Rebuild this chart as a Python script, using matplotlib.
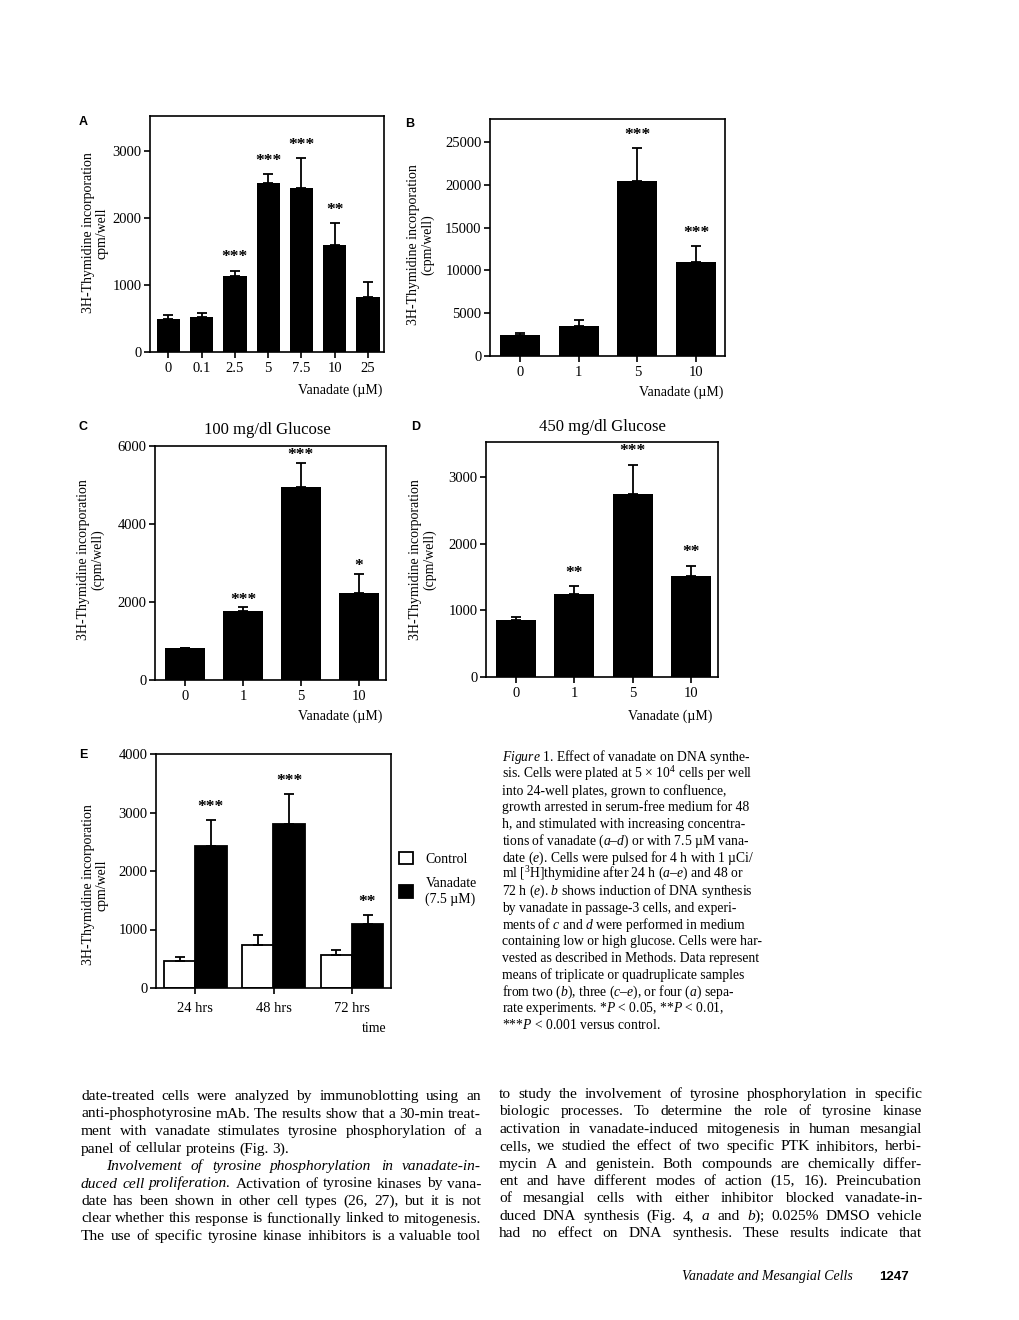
import matplotlib
matplotlib.use('Agg')
import matplotlib.pyplot as plt
import numpy as np
from matplotlib.transforms import IdentityTransform

W, H = 1020, 1320

# panel A: dose response
a_labels = ['0', '0.1', '2.5', '5', '7.5', '10', '25']
a_means = [485, 515, 1135, 2515, 2445, 1600, 825]
a_tops = [550, 585, 1215, 2655, 2895, 1920, 1040]
a_stars = ['', '', '***', '***', '***', '**', '']

# panel B: passage-3 cells
b_labels = ['0', '1', '5', '10']
b_means = [2420, 3515, 20500, 10980]
b_tops = [2730, 4220, 24340, 12890]
b_stars = ['', '', '***', '***']

# panel C: 100 mg/dl glucose
c_labels = ['0', '1', '5', '10']
c_means = [828, 1775, 4957, 2218]
c_tops = [828, 1860, 5572, 2730]
c_stars = ['', '***', '***', '*']

# panel D: 450 mg/dl glucose
d_labels = ['0', '1', '5', '10']
d_means = [860, 1250, 2740, 1510]
d_tops = [900, 1365, 3185, 1670]
d_stars = ['', '**', '***', '**']

# panel E: time course
e_labels = ['24 hrs', '48 hrs', '72 hrs']
e_ctrl = [466, 734, 557]
e_ctrl_tops = [523, 904, 648]
e_van = [2429, 2804, 1092]
e_van_tops = [2873, 3311, 1251]
e_stars = ['***', '***', '**']

caption = [
    r"$\mathit{Figure\ 1}$. Effect of vanadate on DNA synthe-",
    "sis. Cells were plated at 5 × 10$^4$ cells per well",
    "into 24-well plates, grown to confluence,",
    "growth arrested in serum-free medium for 48",
    "h, and stimulated with increasing concentra-",
    "tions of vanadate ($a$–$d$) or with 7.5 µM vana-",
    "date ($e$). Cells were pulsed for 4 h with 1 µCi/",
    "ml [$^3$H]thymidine after 24 h ($a$–$e$) and 48 or",
    "72 h ($e$). $b$ shows induction of DNA synthesis",
    "by vanadate in passage-3 cells, and experi-",
    "ments of $c$ and $d$ were performed in medium",
    "containing low or high glucose. Cells were har-",
    "vested as described in Methods. Data represent",
    "means of triplicate or quadruplicate samples",
    "from two ($b$), three ($c$–$e$), or four ($a$) sepa-",
    "rate experiments. *$P$ < 0.05, **$P$ < 0.01,",
    "***$P$ < 0.001 versus control.",
]

left_col = [
    "date-treated cells were analyzed by immunoblotting using an",
    "anti-phosphotyrosine mAb. The results show that a 30-min treat-",
    "ment with vanadate stimulates tyrosine phosphorylation of a",
    "panel of cellular proteins (Fig. 3).",
    "_Involvement _of _tyrosine _phosphorylation _in _vanadate-in-",
    "_duced _cell _proliferation. Activation of tyrosine kinases by vana-",
    "date has been shown in other cell types (26, 27), but it is not",
    "clear whether this response is functionally linked to mitogenesis.",
    "The use of specific tyrosine kinase inhibitors is a valuable tool",
]
left_last = [3]
left_indent = {4: 25}

right_col = [
    "to study the involvement of tyrosine phosphorylation in specific",
    "biologic processes. To determine the role of tyrosine kinase",
    "activation in vanadate-induced mitogenesis in human mesangial",
    "cells, we studied the effect of two specific PTK inhibitors, herbi-",
    "mycin A and genistein. Both compounds are chemically differ-",
    "ent and have different modes of action (15, 16). Preincubation",
    "of mesangial cells with either inhibitor blocked vanadate-in-",
    "duced DNA synthesis (Fig. 4, $a$ and $b$); 0.025% DMSO vehicle",
    "had no effect on DNA synthesis. These results indicate that",
]

plt.rcParams['font.family'] = 'Liberation Serif'
plt.rcParams['mathtext.fontset'] = 'custom'
plt.rcParams['mathtext.rm'] = 'Liberation Serif'
plt.rcParams['mathtext.it'] = 'Liberation Serif:italic'
plt.rcParams['mathtext.bf'] = 'Liberation Serif:bold'

fig = plt.figure(figsize=(W / 100, H / 100), dpi=100)
renderer = fig.canvas.get_renderer()
PIX = IdentityTransform()


def px_axes(l, t, r, b):
    return fig.add_axes([l / W, 1 - b / H, (r - l) / W, (b - t) / H])


def ptext(x, y, s, **kw):
    # text placed in page pixel coordinates (origin top-left)
    return fig.text(x, H - y, s, transform=PIX, **kw)


def style_axes(ax, xlim, ylim, yticks, xpad=3):
    ax.set_xlim(*xlim)
    ax.set_ylim(*ylim)
    ax.set_yticks(yticks)
    for sp in ax.spines.values():
        sp.set_linewidth(1.2)
    ax.tick_params(direction='out', length=4, width=1.2, labelsize=10.5,
                   top=False, right=False)
    ax.tick_params(axis='y', pad=2)
    ax.tick_params(axis='x', pad=xpad)


def stars_on(ax, xs, tops, stars, pad=9.5):
    for x, t, s in zip(xs, tops, stars):
        if s:
            ax.annotate(s, (x, t), xytext=(0, pad), textcoords='offset points',
                        ha='center', va='center', fontsize=12.5, fontweight='bold')


def bar_panel(box, labels, means, tops, stars, width, xlim, ylim, yticks, pad=9.5):
    ax = px_axes(*box)
    x = np.arange(len(means))
    err = np.array(tops) - np.array(means)
    ax.bar(x, means, width, color='black',
           yerr=[np.zeros_like(err), err],
           error_kw=dict(ecolor='black', elinewidth=1.3, capsize=3.5, capthick=1.3))
    ax.set_xticks(x)
    ax.set_xticklabels(labels)
    style_axes(ax, xlim, ylim, yticks)
    stars_on(ax, x, tops, stars, pad)
    return ax


def ylabel2(x, y, second):
    ptext(x, y, "3H-Thymidine incorporation\n" + second, rotation=90,
          ha='center', va='center', multialignment='center', fontsize=10,
          linespacing=1.05)


def make_words(line, y, fs):
    arts = []
    for w in line.split(' '):
        st = 'normal'
        if w.startswith('_'):
            w = w[1:]
            st = 'italic'
        arts.append(ptext(0, y, w, fontsize=fs, fontstyle=st, va='baseline',
                          ha='left'))
    widths = [a.get_window_extent(renderer).width for a in arts]
    return arts, widths


def natural_width(line, fs):
    arts, widths = make_words(line, 0, fs)
    for a in arts:
        a.remove()
    return sum(widths) + 0.25 * fs * 100 / 72 * (len(widths) - 1)


def draw_line(line, x0, y, fs, x1=None, indent=0):
    arts, widths = make_words(line, y, fs)
    space = 0.25 * fs * 100 / 72
    if x1 is not None and len(arts) > 1:
        space = (x1 - x0 - indent - sum(widths)) / (len(arts) - 1)
    x = x0 + indent
    for a, w in zip(arts, widths):
        a.set_x(x)
        x += w + space


# ---- panels ----
bar_panel((150, 116, 384, 352), a_labels, a_means, a_tops, a_stars, 0.7,
          (-0.55, 6.48), (0, 3520), [0, 1000, 2000, 3000])
ylabel2(95, 233, "cpm/well")
ptext(382, 390, "Vanadate (µM)", ha='right', va='center', fontsize=10)
ptext(83, 122, "A", fontsize=9, fontweight='bold', family='Liberation Sans',
      ha='center', va='center')

bar_panel((490, 119, 725, 356), b_labels, b_means, b_tops, b_stars, 0.68,
          (-0.51, 3.49), (0, 27700), [0, 5000, 10000, 15000, 20000, 25000])
ylabel2(421, 245, "(cpm/well)")
ptext(723, 392, "Vanadate (µM)", ha='right', va='center', fontsize=10)
ptext(410, 124, "B", fontsize=9, fontweight='bold', family='Liberation Sans',
      ha='center', va='center')

bar_panel((155, 446, 386, 680), c_labels, c_means, c_tops, c_stars, 0.7,
          (-0.52, 3.47), (0, 6000), [0, 2000, 4000, 6000], pad=5.5)
ylabel2(91, 560, "(cpm/well)")
ptext(382, 716, "Vanadate (µM)", ha='right', va='center', fontsize=10)
ptext(267, 430, "100 mg/dl Glucose", ha='center', va='center', fontsize=12)
ptext(83, 427, "C", fontsize=9, fontweight='bold', family='Liberation Sans',
      ha='center', va='center')

bar_panel((486, 442, 718, 677), d_labels, d_means, d_tops, d_stars, 0.69,
          (-0.51, 3.46), (0, 3525), [0, 1000, 2000, 3000])
ylabel2(423, 560, "(cpm/well)")
ptext(712, 716, "Vanadate (µM)", ha='right', va='center', fontsize=10)
ptext(602, 427, "450 mg/dl Glucose", ha='center', va='center', fontsize=12)
ptext(416, 427, "D", fontsize=9, fontweight='bold', family='Liberation Sans',
      ha='center', va='center')

# panel E: grouped bars
axE = px_axes(156, 754, 391, 988)
xe = np.arange(len(e_labels))
ce = np.array(e_ctrl_tops) - np.array(e_ctrl)
ve = np.array(e_van_tops) - np.array(e_van)
ekw = dict(ecolor='black', elinewidth=1.3, capsize=3.5, capthick=1.3)
axE.bar(xe - 0.2, e_ctrl, 0.4, color='white', edgecolor='black', linewidth=1.3,
        yerr=[np.zeros_like(ce), ce], error_kw=ekw, label='Control')
axE.bar(xe + 0.2, e_van, 0.4, color='black', edgecolor='black', linewidth=1.3,
        yerr=[np.zeros_like(ve), ve], error_kw=ekw, label='Vanadate\n(7.5 µM)')
axE.set_xticks(xe)
axE.set_xticklabels(e_labels)
style_axes(axE, (-0.5, 2.5), (0, 4000), [0, 1000, 2000, 3000, 4000], xpad=6)
stars_on(axE, xe + 0.2, e_van_tops, e_stars)
axE.legend(loc='upper left', bbox_to_anchor=(399 / W, 1 - 852 / H),
           bbox_transform=fig.transFigure, frameon=False, fontsize=10,
           handlelength=1.0, handleheight=1.0, handletextpad=0.9,
           labelspacing=0.8, borderpad=0, borderaxespad=0)
ylabel2(95, 885, "cpm/well")
ptext(386, 1028, "time", ha='right', va='center', fontsize=10)
ptext(83, 755, "E", fontsize=9, fontweight='bold', family='Liberation Sans',
      ha='center', va='center')

# ---- caption (ragged right) ----
for i, line in enumerate(caption):
    ptext(502, 761 + 16.75 * i, line, fontsize=9.8, va='baseline', ha='left')

# ---- body text, two justified columns ----
# pick the size at which the tightest line just fills its column
ratios = [400 / natural_width(l, 10) for i, l in enumerate(left_col) if i not in left_last]
ratios += [423 / natural_width(l, 10) for l in right_col]
fs_body = 10 * min(ratios) * 0.995

for i, line in enumerate(left_col):
    last = i in left_last
    draw_line(line, 81, 1100 + 17.5 * i, fs_body, x1=None if last else 481,
              indent=left_indent.get(i, 0))
for i, line in enumerate(right_col):
    draw_line(line, 499, 1098 + 17.4 * i, fs_body, x1=922)

ptext(682, 1280, "Vanadate and Mesangial Cells", fontsize=10, fontstyle='italic',
      va='baseline')
ptext(879, 1280, "1247", fontsize=9.5, fontweight='bold', family='Liberation Sans',
      va='baseline')

fig.savefig('out.png', dpi=100)
